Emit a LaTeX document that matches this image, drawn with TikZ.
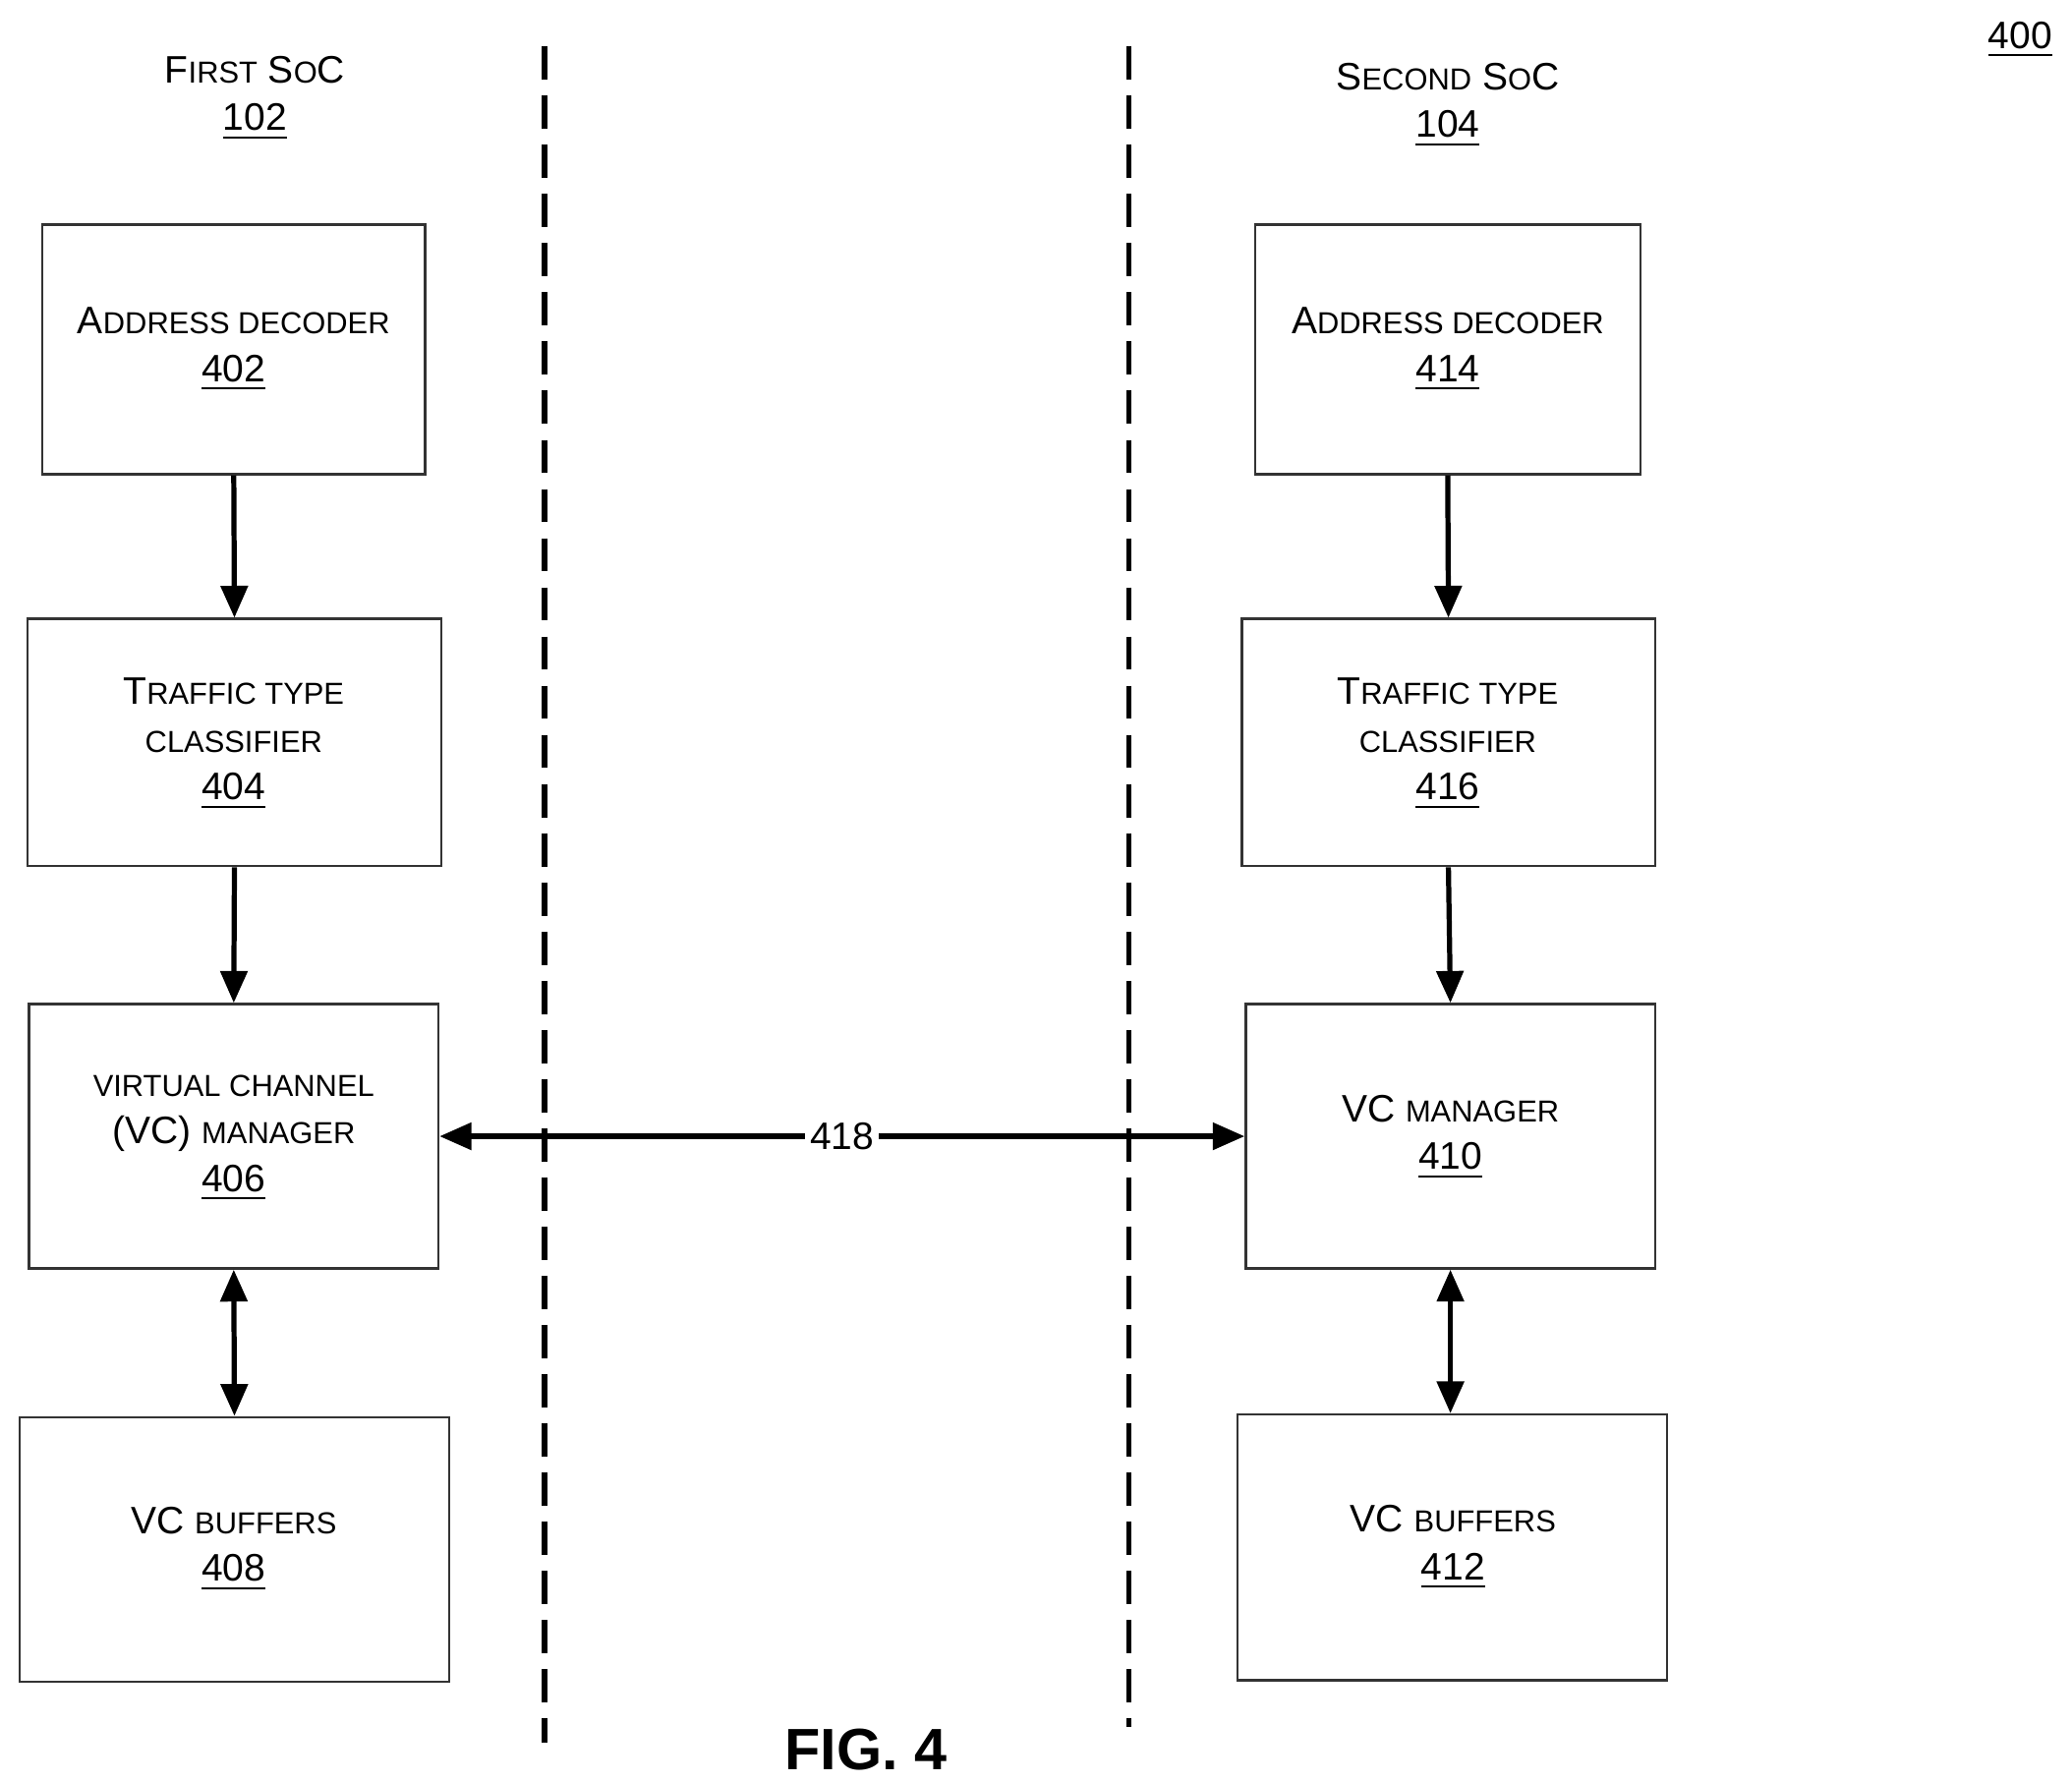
\documentclass[tikz,border=0pt]{standalone}
\usepackage{fontspec}
\setmainfont{Liberation Sans}
\usetikzlibrary{arrows.meta}
\newcommand\Bg[1]{{\fontsize{8.2}{10.2}\selectfont #1}}
\newcommand\Sm[1]{{\fontsize{6.5}{10.2}\selectfont #1}}
\begin{document}
\begin{tikzpicture}[x=0.01cm,y=-0.01cm,
  box/.style={draw=black!80,line width=0.5pt,inner sep=0pt},
  lbl/.style={align=center,font=\fontsize{8.2}{10.2}\selectfont},
  arr/.style={line width=1.1pt,-{Triangle[length=0.24cm,width=0.2cm]}},
  darr/.style={line width=1.1pt,{Triangle[length=0.24cm,width=0.2cm]}-{Triangle[length=0.24cm,width=0.2cm]}},
  dsh/.style={line width=1.1pt,dash pattern=on 0.25cm off 0.12cm}]
\useasboundingbox (0,0) rectangle (1560,1341);
% boxes
\node[box,minimum width=2.88cm,minimum height=1.88cm] (b402) at (176,263) {};
\node[box,minimum width=3.11cm,minimum height=1.86cm] (b404) at (176.5,559) {};
\node[box,minimum width=3.08cm,minimum height=1.99cm] (b406) at (176,855.5) {};
\node[box,minimum width=3.23cm,minimum height=1.99cm] (b408) at (176.5,1166.5) {};
\node[box,minimum width=2.90cm,minimum height=1.88cm] (b414) at (1090,263) {};
\node[box,minimum width=3.11cm,minimum height=1.86cm] (b416) at (1090.5,559) {};
\node[box,minimum width=3.08cm,minimum height=1.99cm] (b410) at (1092,855.5) {};
\node[box,minimum width=3.23cm,minimum height=2.00cm] (b412) at (1093.5,1165) {};
% labels
\node[lbl] (t402) at (176,263) {\Bg{A}\Sm{DDRESS DECODER}\\\underline{402}};
\node[lbl] (t404) at (176,560) {\Bg{T}\Sm{RAFFIC TYPE}\\\Sm{CLASSIFIER}\\\underline{404}};
\node[lbl] (t406) at (176,857) {\Sm{VIRTUAL CHANNEL}\\\Bg{(VC)} \Sm{MANAGER}\\\underline{406}};
\node[lbl] (t408) at (176,1166) {\Bg{VC} \Sm{BUFFERS}\\\underline{408}};
\node[lbl] (t414) at (1090,263) {\Bg{A}\Sm{DDRESS DECODER}\\\underline{414}};
\node[lbl] (t416) at (1090,560) {\Bg{T}\Sm{RAFFIC TYPE}\\\Sm{CLASSIFIER}\\\underline{416}};
\node[lbl] (t410) at (1092,856) {\Bg{VC} \Sm{MANAGER}\\\underline{410}};
\node[lbl] (t412) at (1094,1165) {\Bg{VC} \Sm{BUFFERS}\\\underline{412}};
\node[lbl] (soc1) at (192,74) {\Bg{F}\Sm{IRST} \Bg{S}\Sm{O}\Bg{C}\\\underline{102}};
\node[lbl] (soc2) at (1090,79) {\Bg{S}\Sm{ECOND} \Bg{S}\Sm{O}\Bg{C}\\\underline{104}};
\node[lbl] (n400) at (1521,30) {\underline{400}};
\node[font=\bfseries\fontsize{12.5}{14}\selectfont] (fig) at (652,1317) {FIG. 4};
% dashed lines
\coordinate (d1a) at (410,35); \coordinate (d1b) at (410,1312);
\coordinate (d2a) at (850,35); \coordinate (d2b) at (850,1300);
\draw[dsh] (d1a) -- (d1b);
\draw[dsh] (d2a) -- (d2b);
% arrows
\draw[arr] (b402.south) -- (b404.north);
\draw[arr] (b404.south) -- (b406.north);
\draw[darr] (b406.south) -- (b408.north);
\draw[arr] (b414.south) -- (b416.north);
\draw[arr] (b416.south) -- (b410.north);
\draw[darr] (b410.south) -- (b410.south |- b412.north);
\draw[darr] (b406.east) -- node[fill=white,inner sep=1pt,font=\fontsize{8.2}{10}\selectfont] (l418) {418} (b410.west);
\end{tikzpicture}
\end{document}
